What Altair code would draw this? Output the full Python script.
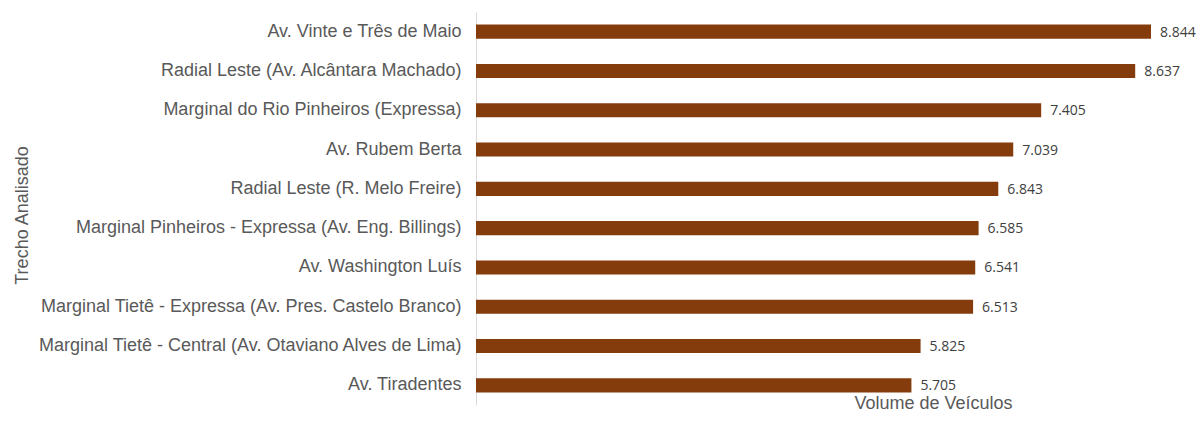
import altair as alt
import pandas as pd

categories = [
    "Av. Vinte e Três de Maio",
    "Radial Leste (Av. Alcântara Machado)",
    "Marginal do Rio Pinheiros (Expressa)",
    "Av. Rubem Berta",
    "Radial Leste (R. Melo Freire)",
    "Marginal Pinheiros - Expressa (Av. Eng. Billings)",
    "Av. Washington Luís",
    "Marginal Tietê - Expressa (Av. Pres. Castelo Branco)",
    "Marginal Tietê - Central (Av. Otaviano Alves de Lima)",
    "Av. Tiradentes",
]
values = [8844, 8637, 7405, 7039, 6843, 6585, 6541, 6513, 5825, 5705]
labels = [f"{v:,}".replace(",", ".") for v in values]

df = pd.DataFrame({"trecho": categories, "volume": values, "label": labels})

x = alt.X(
    "volume:Q",
    scale=alt.Scale(domain=[0, 9355], nice=False, zero=True),
    axis=alt.Axis(
        labels=False, ticks=False, domain=False, grid=False,
        title="Volume de Veículos",
        titleFont="Liberation Sans", titleFontSize=18, titleFontWeight="normal",
        titleColor="#595959", titleX=457, titleY=3, titleAlign="center",
        titleBaseline="alphabetic",
    ),
)
y = alt.Y(
    "trecho:N",
    sort=categories,
    scale=alt.Scale(paddingInner=0.64, paddingOuter=0.32),
    axis=alt.Axis(
        ticks=False, domain=True, domainColor="#D9D9D9", domainWidth=1,
        labelFont="Liberation Sans", labelFontSize=18, labelColor="#595959",
        labelPadding=15, labelLimit=600,
        title="Trecho Analisado",
        titleFont="Liberation Sans", titleFontSize=18, titleFontWeight="normal",
        titleColor="#595959", titleX=-454, titleY=203, titleAngle=270,
        titleAlign="center", titleBaseline="middle",
    ),
)

bars = alt.Chart(df).mark_bar(color="#843C0C").encode(x=x, y=y)
text = alt.Chart(df).mark_text(
    align="left", baseline="middle", dx=9, dy=1, font="Open Sans", fontSize=14, color="#404040"
).encode(x="volume:Q", y=alt.Y("trecho:N", sort=categories), text="label:N")

chart = (
    alt.layer(bars, text)
    .properties(
        width=714, height=393,
        background="white",
        autosize=alt.AutoSizeParams(type="none"),
        padding={"left": 468, "top": 4, "right": 6, "bottom": 8},
    )
    .configure_view(stroke=None, strokeWidth=0)
)

chart.save("out.html", embed_options={"renderer": "svg", "actions": False})
